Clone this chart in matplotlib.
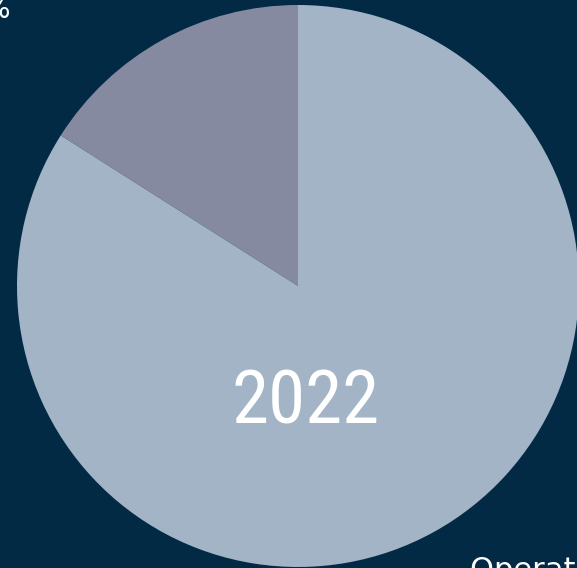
import matplotlib.pyplot as plt

# pie data (share of total)
labels = ['Other', 'Operating']
shares = [16, 84]
colors = ['#858aa0', '#a2b4c6']
year = '2022'

W, H = 577, 568
bg = '#032a45'

fig = plt.figure(figsize=(W / 100, H / 100), dpi=100, facecolor=bg)
ax = fig.add_axes([0, 0, 1, 1])
ax.set_facecolor(bg)

ax.pie(shares, colors=colors, startangle=90, counterclock=True,
       center=(298, H - 286), radius=281, frame=True,
       wedgeprops=dict(linewidth=0))
ax.set_xlim(0, W)
ax.set_ylim(0, H)
ax.set_aspect('equal')
ax.axis('off')

ax.text(306, H - 403, year, color='white', fontsize=54,
        family=['Roboto Condensed', 'Liberation Sans Narrow', 'DejaVu Sans'],
        ha='center', va='center')

# outside labels, mostly cut off by the canvas edge
ax.text(11, H - 18, '16%', color='white', fontsize=20,
        ha='right', va='baseline')
ax.text(470, H - 579, 'Operating 84%', color='white', fontsize=22,
        ha='left', va='baseline')

plt.savefig('out.png', dpi=100, facecolor=bg)
